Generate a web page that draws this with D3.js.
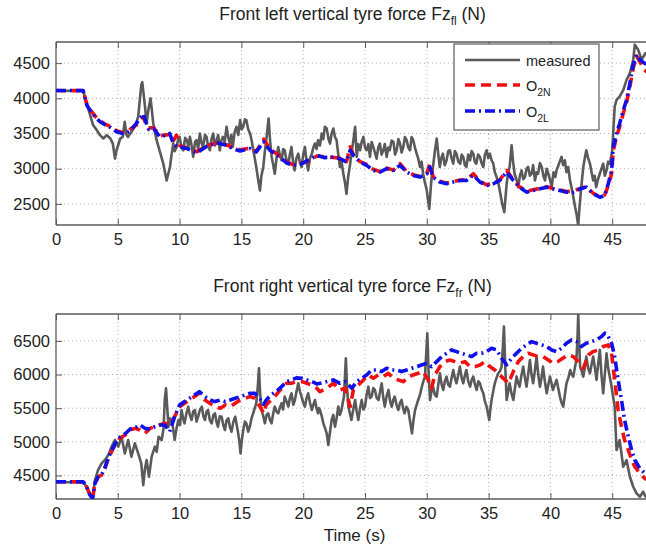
<!DOCTYPE html>
<html><head><meta charset="utf-8">
<script src="https://cdn.jsdelivr.net/npm/d3@7"></script>
<style>
body{margin:0;background:#fff;}
text{font-family:"Liberation Sans",Arial,Helvetica,sans-serif;fill:#222;}
</style></head>
<body><svg id="chart" width="646" height="550"></svg>
<script>
// ---------- tick labels ----------
const xTicks = [0,5,10,15,20,25,30,35,40,45];
const yTicksFL = [2500,3000,3500,4000,4500];
const yTicksFR = [4500,5000,5500,6000,6500];
const seriesNames = ["measured","O2N","O2L"];

// ---------- front left: [time s, force N] ----------
const measuredFL = [[0,4110],[0.5,4115],[1,4105],[1.5,4112],[2,4108],[2.2,4105],[2.45,3950],[2.7,3800],[3,3620],[3.3,3548],[3.56,3476],[3.83,3429],[4.1,3476],[4.4,3429],[4.6,3357],[4.77,3143],[4.9,3262],[5.2,3429],[5.4,3452],[5.56,3667],[5.7,3480],[5.83,3452],[6.1,3523],[6.38,3595],[6.65,3738],[6.9,4190],[6.98,4230],[7.2,3881],[7.33,3643],[7.47,3833],[7.65,4000],[7.87,3643],[8.14,3405],[8.41,3238],[8.68,3071],[8.95,2833],[9.22,3024],[9.35,3200],[9.49,3357],[9.6,3250],[9.76,3309],[9.88,3420],[10,3452],[10.15,3300],[10.3,3262],[10.45,3440],[10.6,3405],[10.7,3300],[10.83,3452],[10.95,3350],[11.1,3167],[11.25,3380],[11.37,3405],[11.5,3280],[11.64,3500],[11.78,3360],[11.9,3309],[12.05,3480],[12.18,3452],[12.3,3320],[12.45,3262],[12.58,3420],[12.72,3500],[12.85,3330],[13,3405],[13.12,3480],[13.25,3262],[13.38,3400],[13.5,3452],[13.65,3380],[13.8,3595],[13.93,3450],[14.07,3357],[14.18,3480],[14.3,3309],[14.45,3520],[14.6,3595],[14.75,3480],[14.9,3690],[15.02,3560],[15.15,3595],[15.28,3700],[15.4,3690],[15.55,3560],[15.7,3500],[15.83,3400],[15.96,3262],[16.08,3150],[16.2,3024],[16.35,2850],[16.5,2690],[16.62,2900],[16.77,3024],[16.9,3250],[17.04,3452],[17.2,3714],[17.32,3400],[17.45,3167],[17.58,3050],[17.7,2928],[17.84,3150],[17.98,3309],[18.1,3200],[18.25,3119],[18.38,3280],[18.5,3262],[18.65,3120],[18.8,3071],[18.92,3200],[19.05,3309],[19.18,3100],[19.3,2976],[19.45,3150],[19.6,3214],[19.74,3080],[19.87,3024],[20,3200],[20.14,3309],[20.27,3100],[20.4,2976],[20.55,3150],[20.7,3214],[20.82,3300],[20.95,3357],[21.08,3280],[21.2,3405],[21.35,3330],[21.5,3500],[21.62,3420],[21.75,3595],[21.9,3571],[22.05,3420],[22.17,3357],[22.3,3500],[22.44,3571],[22.57,3450],[22.7,3405],[22.84,3200],[22.97,3024],[23.1,3100],[23.25,2928],[23.38,2800],[23.5,2643],[23.65,2900],[23.8,3071],[23.93,3250],[24.06,3405],[24.2,3595],[24.33,3167],[24.46,3350],[24.6,3262],[24.73,3380],[24.87,3452],[25,3300],[25.13,3262],[25.27,3350],[25.4,3167],[25.54,3380],[25.67,3309],[25.8,3230],[25.94,3143],[26.07,3300],[26.2,3357],[26.34,3200],[26.48,3262],[26.6,3350],[26.75,3167],[26.88,3300],[27,3262],[27.15,3400],[27.3,3381],[27.43,3200],[27.56,3262],[27.7,3420],[27.83,3357],[27.96,3230],[28.1,3309],[28.23,3450],[28.37,3405],[28.5,3300],[28.64,3262],[28.77,3450],[28.9,3405],[29.04,3300],[29.18,3214],[29.3,3150],[29.45,3024],[29.58,3100],[29.7,2928],[29.85,2800],[30,2690],[30.1,2550],[30.2,2428],[30.35,2800],[30.5,3024],[30.65,3250],[30.8,3428],[30.93,3200],[31.05,3024],[31.17,3150],[31.3,3214],[31.45,3050],[31.6,3119],[31.73,3250],[31.87,3262],[32,3150],[32.14,3071],[32.27,3250],[32.4,3214],[32.55,3100],[32.7,3071],[32.82,3200],[32.95,3167],[33.08,3050],[33.2,3024],[33.35,3200],[33.5,3119],[33.63,3250],[33.76,3214],[33.88,3100],[34,3071],[34.15,3200],[34.3,3167],[34.43,3080],[34.57,3024],[34.7,3200],[34.84,3262],[34.97,3150],[35.1,3214],[35.24,3120],[35.38,3071],[35.5,2950],[35.65,2881],[35.78,2800],[35.9,2690],[36.1,2500],[36.27,2381],[36.37,2600],[36.46,2786],[36.58,2950],[36.7,3024],[36.86,3333],[36.98,3100],[37.1,2928],[37.25,2850],[37.4,2738],[37.53,2900],[37.67,2976],[37.8,2850],[37.94,2881],[38.07,3000],[38.2,3024],[38.34,2900],[38.48,2928],[38.6,3050],[38.75,2833],[38.88,2950],[39,2928],[39.15,3080],[39.3,3024],[39.43,2900],[39.56,2833],[39.7,3000],[39.83,2928],[39.96,2850],[40.1,2738],[40.25,2950],[40.4,2881],[40.5,2980],[40.6,3024],[40.75,3100],[40.9,3167],[41.03,3050],[41.17,3119],[41.3,2950],[41.44,3024],[41.57,2850],[41.7,2738],[41.85,2600],[42,2452],[42.12,2350],[42.25,2190],[42.33,2400],[42.4,2547],[42.53,2800],[42.66,3024],[42.78,3150],[42.9,3262],[43.05,3150],[43.2,3071],[43.33,2950],[43.46,2833],[43.58,2900],[43.7,2738],[43.85,2850],[44,2928],[44.13,3000],[44.27,3071],[44.4,2900],[44.54,2976],[44.67,3100],[44.8,3071],[44.9,3150],[45,3262],[45.2,3881],[45.35,3976],[45.6,4024],[45.9,4119],[46.16,4262],[46.43,4357],[46.7,4548],[46.83,4762],[47.1,4690],[47.37,4548],[47.7,4643],[48,4600]];
const o2nFL = [[0,4110],[1,4108],[2.2,4110],[2.5,3910],[2.75,3840],[3.2,3740],[3.56,3680],[4,3630],[4.4,3600],[4.9,3540],[5.4,3510],[5.8,3530],[6,3560],[6.5,3620],[7.06,3740],[7.3,3620],[7.5,3580],[7.9,3580],[8.4,3470],[8.95,3480],[9.2,3490],[9.5,3400],[9.75,3476],[10,3330],[10.6,3290],[11.4,3240],[12.2,3330],[13,3360],[13.8,3340],[14.3,3300],[14.9,3270],[15.7,3290],[16.2,3245],[16.8,3420],[17.3,3280],[18.1,3180],[18.65,3100],[19.2,3055],[19.9,3080],[20.5,3110],[21.1,3180],[21.7,3170],[22.44,3160],[22.97,3150],[23.5,3100],[23.8,3309],[24.06,3200],[24.6,3100],[25.13,3060],[25.67,2990],[26.2,2960],[26.75,3010],[27.3,2980],[27.83,3071],[28.37,2960],[28.9,2915],[29.45,2890],[30,2935],[30.25,3071],[30.5,2890],[31.05,2820],[31.6,2795],[32.14,2815],[32.7,2840],[33.2,2845],[33.76,2928],[34.3,2820],[34.84,2770],[35.38,2790],[35.9,2840],[36.46,2976],[37,2845],[37.5,2745],[38.07,2680],[38.6,2700],[39.15,2720],[39.7,2745],[40.2,2720],[40.77,2700],[41.3,2675],[41.85,2680],[42.4,2720],[42.9,2745],[43.46,2650],[44,2605],[44.4,2630],[44.68,2760],[44.95,2930],[45.08,3250],[45.35,3450],[45.6,3600],[45.9,3790],[46.16,3940],[46.43,4170],[46.7,4430],[46.97,4600],[47.24,4520],[47.6,4405],[48,4350]];
const o2lFL = [[0,4110],[1,4110],[2.2,4110],[2.5,3900],[2.75,3833],[3.2,3730],[3.56,3667],[4,3620],[4.4,3586],[4.9,3524],[5.4,3500],[5.8,3520],[6,3538],[6.5,3643],[7.06,3780],[7.3,3650],[7.5,3557],[7.9,3570],[8.4,3453],[8.95,3476],[9.2,3500],[9.5,3357],[9.75,3320],[10,3310],[10.6,3286],[11.4,3224],[12.2,3320],[13,3367],[13.8,3333],[14.3,3286],[14.9,3252],[15.7,3286],[16.2,3238],[16.8,3381],[17.3,3262],[18.1,3167],[18.65,3081],[19.2,3048],[19.9,3071],[20.5,3129],[21.1,3190],[21.7,3157],[22.44,3167],[22.97,3143],[23.5,3095],[23.8,3262],[24.06,3190],[24.6,3095],[25.13,3048],[25.67,2976],[26.2,2952],[26.75,3000],[27.3,2976],[27.83,3048],[28.37,2952],[28.9,2905],[29.45,2881],[30,2928],[30.25,3024],[30.5,2881],[31.05,2810],[31.6,2786],[32.14,2810],[32.7,2833],[33.2,2833],[33.76,2905],[34.3,2810],[34.84,2762],[35.38,2786],[35.9,2833],[36.46,2952],[37,2833],[37.5,2738],[38.07,2667],[38.6,2690],[39.15,2714],[39.7,2738],[40.2,2714],[40.77,2690],[41.3,2667],[41.85,2667],[42.4,2714],[42.9,2738],[43.46,2643],[44,2595],[44.4,2619],[44.68,2786],[44.95,2976],[45.08,3309],[45.35,3500],[45.6,3643],[45.9,3833],[46.16,3976],[46.43,4214],[46.7,4476],[46.97,4619],[47.24,4548],[47.6,4500],[48,4460]];

// ---------- front right: [time s, force N] ----------
const measuredFR = [[0,4400],[0.5,4405],[1,4398],[1.5,4403],[2,4400],[2.3,4382],[2.75,4233],[2.96,4159],[3.15,4432],[3.4,4580],[3.69,4680],[3.96,4729],[4.23,4804],[4.5,4928],[4.77,5027],[5.04,4928],[5.3,5076],[5.57,4828],[5.84,5027],[6.1,4779],[6.38,4977],[6.65,4828],[6.9,4680],[7.06,4357],[7.2,4600],[7.33,4729],[7.52,4481],[7.74,4779],[8,4928],[8.15,4850],[8.3,5076],[8.55,5027],[8.7,5200],[8.8,5622],[8.9,5796],[9,5500],[9.1,5225],[9.22,5350],[9.35,5324],[9.47,5200],[9.6,5027],[9.75,5200],[9.9,5324],[10.03,5250],[10.16,5473],[10.28,5350],[10.4,5275],[10.55,5420],[10.7,5523],[10.83,5400],[10.97,5324],[11.1,5450],[11.24,5473],[11.37,5300],[11.5,5374],[11.65,5480],[11.8,5523],[11.92,5380],[12.05,5324],[12.18,5450],[12.3,5473],[12.45,5320],[12.6,5275],[12.73,5400],[12.86,5424],[12.98,5300],[13.1,5225],[13.25,5380],[13.4,5374],[13.53,5250],[13.67,5176],[13.8,5320],[13.94,5349],[14.07,5220],[14.2,5151],[14.35,5300],[14.5,5374],[14.62,5250],[14.74,5126],[14.84,5000],[14.93,4828],[15.05,5050],[15.15,5176],[15.28,5300],[15.4,5275],[15.55,5150],[15.68,5225],[15.82,5350],[15.95,5424],[16.08,5500],[16.2,5572],[16.32,5800],[16.42,6093],[16.52,5700],[16.63,5473],[16.77,5380],[16.9,5275],[17.03,5400],[17.17,5424],[17.3,5330],[17.44,5275],[17.57,5420],[17.7,5523],[17.84,5450],[17.98,5424],[18.1,5500],[18.25,5572],[18.37,5480],[18.5,5672],[18.65,5600],[18.8,5523],[18.92,5650],[19.05,5721],[19.2,5550],[19.33,5622],[19.46,5750],[19.6,5870],[19.73,5750],[19.87,5672],[20,5580],[20.14,5523],[20.27,5650],[20.4,5721],[20.55,5580],[20.7,5473],[20.82,5550],[20.95,5622],[21.08,5500],[21.2,5424],[21.28,5500],[21.36,5473],[21.5,5380],[21.63,5275],[21.77,5200],[21.9,5126],[22.03,4952],[22.17,5150],[22.3,5324],[22.43,5400],[22.57,5225],[22.7,5350],[22.84,5523],[22.97,5400],[23.1,5473],[23.2,5580],[23.3,5672],[23.45,6242],[23.55,5800],[23.65,5523],[23.78,5420],[23.9,5324],[24.05,5480],[24.2,5622],[24.33,5450],[24.46,5324],[24.6,5500],[24.73,5622],[24.87,5480],[25,5523],[25.13,5700],[25.27,5820],[25.4,5650],[25.54,5672],[25.67,5800],[25.8,5771],[25.95,5650],[26.1,5622],[26.22,5750],[26.35,5870],[26.48,5650],[26.6,5523],[26.75,5680],[26.9,5771],[27.03,5600],[27.16,5523],[27.28,5620],[27.4,5672],[27.55,5550],[27.7,5473],[27.83,5580],[27.96,5622],[28.08,5500],[28.2,5424],[28.35,5520],[28.5,5473],[28.65,5300],[28.8,5126],[28.92,5320],[29.05,5473],[29.18,5550],[29.3,5622],[29.45,5700],[29.6,5820],[29.72,5900],[29.85,5969],[29.95,6300],[30.04,6614],[30.15,6000],[30.26,5622],[30.38,5750],[30.5,5820],[30.65,5700],[30.8,5672],[30.93,5850],[31.06,6019],[31.2,5850],[31.33,5771],[31.46,5900],[31.6,5969],[31.73,5850],[31.87,5820],[32,5950],[32.14,6068],[32.27,5950],[32.4,5870],[32.55,6000],[32.68,6118],[32.82,5950],[32.95,5870],[33.08,5990],[33.2,6068],[33.35,5900],[33.5,5820],[33.63,5920],[33.76,5969],[33.9,5850],[34.03,5771],[34.17,5900],[34.3,5870],[34.43,5780],[34.57,5721],[34.7,5600],[34.84,5523],[34.95,5420],[35.05,5324],[35.15,5500],[35.24,5622],[35.37,5750],[35.5,5870],[35.64,5950],[35.78,6019],[35.92,6050],[36.05,6118],[36.15,6400],[36.24,6713],[36.35,6100],[36.46,5622],[36.58,5750],[36.7,5870],[36.85,5720],[37,5622],[37.13,5800],[37.26,5969],[37.38,5880],[37.5,5820],[37.65,5980],[37.8,6118],[37.94,5950],[38.07,5820],[38.2,6000],[38.34,6217],[38.47,6000],[38.6,5870],[38.74,6050],[38.88,6267],[39.02,6000],[39.15,5820],[39.28,5950],[39.4,6118],[39.55,5900],[39.7,5721],[39.83,5850],[39.96,5969],[40.08,5880],[40.2,5771],[40.35,5850],[40.5,5920],[40.63,5800],[40.77,5672],[40.9,5580],[41.04,5523],[41.17,5700],[41.3,5870],[41.45,5950],[41.6,6068],[41.72,6000],[41.85,5969],[41.98,6100],[42.1,6217],[42.18,6500],[42.25,6887],[42.32,6500],[42.4,6118],[42.53,6050],[42.66,5969],[42.78,6100],[42.9,6267],[43.05,6100],[43.2,6019],[43.33,6150],[43.46,6267],[43.6,6100],[43.73,5920],[43.86,6150],[44,6366],[44.13,6000],[44.27,5721],[44.4,6000],[44.54,6316],[44.67,6100],[44.8,5969],[44.92,5850],[45.03,5721],[45.2,5523],[45.35,4878],[45.6,5027],[45.89,4630],[46.16,4729],[46.43,4481],[46.7,4332],[46.97,4233],[47.24,4184],[47.5,4258],[47.7,4184],[48,4200]];
const o2nFR = [[0,4407],[1,4405],[2.2,4407],[2.48,4332],[2.75,4208],[2.96,4159],[3.15,4382],[3.42,4481],[3.69,4506],[3.96,4605],[4.23,4754],[4.5,4853],[4.77,4952],[5.17,5052],[5.6,5101],[6,5176],[6.4,5200],[6.8,5176],[7.2,5126],[7.6,5200],[8,5225],[8.4,5250],[8.8,5275],[9.2,5250],[9.6,5374],[10,5523],[10.4,5572],[10.8,5622],[11.2,5672],[11.6,5721],[12.05,5622],[12.45,5572],[12.85,5523],[13.3,5498],[13.7,5548],[14.1,5523],[14.5,5572],[14.9,5622],[15.3,5647],[15.7,5672],[16.1,5647],[16.5,5523],[16.8,5424],[17,5548],[17.4,5622],[17.8,5696],[18.25,5796],[18.65,5870],[19.05,5870],[19.45,5895],[19.9,5895],[20.3,5870],[20.7,5845],[21.1,5796],[21.36,5746],[21.9,5796],[22.44,5870],[22.97,5771],[23.4,5796],[23.8,5523],[24.06,5771],[24.46,5845],[24.87,5920],[25.27,5994],[25.67,5944],[26.07,5994],[26.48,5969],[26.88,6019],[27.3,5944],[27.7,5920],[28.1,5895],[28.5,5969],[28.9,5994],[29.3,6019],[29.7,6044],[30.1,5920],[30.38,5796],[30.65,5994],[31.06,6118],[31.46,6192],[31.87,6217],[32.27,6192],[32.68,6168],[33.08,6192],[33.5,6118],[33.9,6118],[34.3,6143],[34.7,6192],[35.1,6118],[35.5,6068],[36.05,5969],[36.6,5870],[37,6044],[37.4,6192],[37.8,6267],[38.2,6316],[38.6,6292],[39,6267],[39.4,6267],[39.83,6217],[40.2,6168],[40.6,6192],[41,6242],[41.44,6292],[41.85,6267],[42.25,6192],[42.66,6093],[43.07,6292],[43.46,6341],[43.87,6366],[44.27,6416],[44.68,6440],[44.95,6316],[45.2,5920],[45.48,5473],[45.75,5225],[46,5027],[46.3,4878],[46.57,4729],[46.83,4630],[47.24,4531],[47.64,4456],[48,4420]];
const o2lFR = [[0,4407],[1,4405],[2.2,4407],[2.48,4332],[2.75,4208],[2.96,4159],[3.15,4382],[3.42,4481],[3.69,4506],[3.96,4620],[4.23,4760],[4.5,4870],[4.77,4970],[5.17,5070],[5.6,5120],[6,5190],[6.4,5210],[6.8,5250],[7.2,5200],[7.6,5190],[8,5225],[8.4,5250],[8.8,5250],[9.2,5151],[9.6,5374],[10,5548],[10.4,5600],[10.8,5647],[11.2,5696],[11.6,5745],[12.05,5672],[12.45,5622],[12.85,5598],[13.3,5622],[13.7,5598],[14.1,5622],[14.5,5647],[14.9,5672],[15.3,5696],[15.7,5721],[16.1,5720],[16.5,5640],[16.8,5560],[17,5620],[17.4,5700],[17.8,5745],[18.25,5820],[18.65,5895],[19.05,5920],[19.45,5950],[19.9,5944],[20.3,5920],[20.7,5895],[21.1,5860],[21.36,5870],[21.9,5895],[22.44,5920],[22.97,5870],[23.4,5895],[23.94,5796],[24.33,5895],[24.73,5944],[25.13,5994],[25.54,6068],[25.94,6068],[26.35,6044],[26.75,6093],[27.16,6068],[27.56,6068],[27.96,6044],[28.37,6068],[28.77,6093],[29.18,6118],[29.58,6143],[30,6168],[30.38,6118],[30.8,6192],[31.2,6267],[31.6,6316],[32,6366],[32.4,6341],[32.8,6316],[33.2,6292],[33.63,6267],[34.03,6316],[34.43,6316],[34.84,6341],[35.24,6391],[35.65,6366],[36.05,6242],[36.46,6143],[36.86,6242],[37.26,6316],[37.67,6391],[38.07,6440],[38.48,6490],[38.88,6465],[39.3,6440],[39.7,6416],[40.1,6366],[40.5,6341],[40.9,6391],[41.3,6465],[41.7,6515],[42.1,6490],[42.5,6416],[42.9,6465],[43.33,6490],[43.73,6515],[44.14,6564],[44.4,6614],[44.68,6564],[44.95,6465],[45.2,6267],[45.48,5920],[45.75,5622],[46,5324],[46.3,5076],[46.57,4878],[46.83,4729],[47.24,4605],[47.64,4531],[48,4490]];

// ---------- drawing ----------
const svg = d3.select("#chart");
svg.append("rect").attr("width",646).attr("height",550).attr("fill","#fff");

const x = d3.scaleLinear().domain([0,48]).range([56,649.3]);
const styles = {
  measured:{color:"#5a5a5a", width:2.6, dash:null},
  O2N:{color:"#f01010", width:3.6, dash:"10,6"},
  O2L:{color:"#1010e8", width:3.6, dash:"10,4,2,4"}
};

function panel(id, top, bottom, yDomain, yTicks, title, sub, series){
  const y = d3.scaleLinear().domain(yDomain).range([bottom, top]);
  const g = svg.append("g");
  const [x0,x1] = x.range();
  g.append("clipPath").attr("id","clip"+id).append("rect")
    .attr("x",x0).attr("y",top).attr("width",x1-x0).attr("height",bottom-top);

  // grid
  const grid = g.append("g").attr("stroke","#b0b0b0").attr("stroke-width",1).attr("stroke-dasharray","1,3");
  xTicks.forEach(t=>{ if(t>0) grid.append("line").attr("x1",x(t)).attr("x2",x(t)).attr("y1",top).attr("y2",bottom); });
  yTicks.forEach(t=>grid.append("line").attr("x1",x0).attr("x2",x1).attr("y1",y(t)).attr("y2",y(t)));

  // axes via d3
  const ax = g.append("g").attr("transform",`translate(0,${bottom})`)
    .call(d3.axisBottom(x).tickValues(xTicks).tickFormat(d3.format("d")).tickSize(-6).tickPadding(8));
  const axT = g.append("g").attr("transform",`translate(0,${top})`)
    .call(d3.axisTop(x).tickValues(xTicks).tickSize(-6).tickFormat(""));
  const ay = g.append("g").attr("transform",`translate(${x0},0)`)
    .call(d3.axisLeft(y).tickValues(yTicks).tickFormat(d3.format("d")).tickSize(-6).tickPadding(6));
  [ax,axT,ay].forEach(a=>{
    a.selectAll("path").attr("stroke","#5a5a5a").attr("stroke-width",1.3);
    a.selectAll("line").attr("stroke","#5a5a5a");
    a.selectAll("text").style("font-size","16.5px").attr("fill","#222")
      .style("font-family",'"Liberation Sans",Arial,sans-serif');
  });
  ax.select(".domain").attr("d",`M${x0},0H${x1}`);
  axT.select(".domain").attr("d",`M${x0},0H${x1}`);
  ay.select(".domain").attr("d",`M0,${top}V${bottom}`);

  // lines
  const line = d3.line().x(d=>x(d[0])).y(d=>y(d[1]));
  const lg = g.append("g").attr("clip-path",`url(#clip${id})`);
  series.forEach(([name,data])=>{
    const s = styles[name];
    lg.append("path").datum(data).attr("d",line).attr("fill","none")
      .attr("stroke",s.color).attr("stroke-width",s.width)
      .attr("stroke-dasharray",s.dash).attr("stroke-linejoin","round");
  });

  // title
  const tt = svg.append("text").attr("x",352.5).attr("y",top-22.5).attr("text-anchor","middle")
    .style("font-size","17.5px");
  tt.append("tspan").text(title);
  tt.append("tspan").attr("dy",5).style("font-size","12px").text(sub);
  tt.append("tspan").attr("dy",-5).text(" (N)");
  return y;
}

panel("fl",42,225,[2200,4800],yTicksFL,"Front left vertical tyre force Fz","fl",
  [["measured",measuredFL],["O2N",o2nFL],["O2L",o2lFL]]);
panel("fr",314,499,[4150,6900],yTicksFR,"Front right vertical tyre force Fz","fr",
  [["measured",measuredFR],["O2N",o2nFR],["O2L",o2lFR]]);

svg.append("text").attr("x",354.5).attr("y",540.5).attr("text-anchor","middle")
  .style("font-size","17px").text("Time (s)");

// legend
const leg = svg.append("g");
leg.append("rect").attr("x",454).attr("y",44).attr("width",145).attr("height",86)
  .attr("fill","#fff").attr("stroke","#5a5a5a").attr("stroke-width",1.2);
const legY = [60,85,111];
seriesNames.forEach((n,i)=>{
  const s = styles[n];
  leg.append("line").attr("x1",465).attr("x2",520).attr("y1",legY[i]).attr("y2",legY[i])
    .attr("stroke",s.color).attr("stroke-width",s.width).attr("stroke-dasharray",s.dash);
  const t = leg.append("text").attr("x",526).attr("y",legY[i]+5.5).style("font-size","14.5px");
  if(n==="measured") t.text("measured");
  else {
    t.append("tspan").text("O");
    t.append("tspan").attr("dy",5).style("font-size","10.5px").text(n.slice(1));
  }
});
</script></body></html>
